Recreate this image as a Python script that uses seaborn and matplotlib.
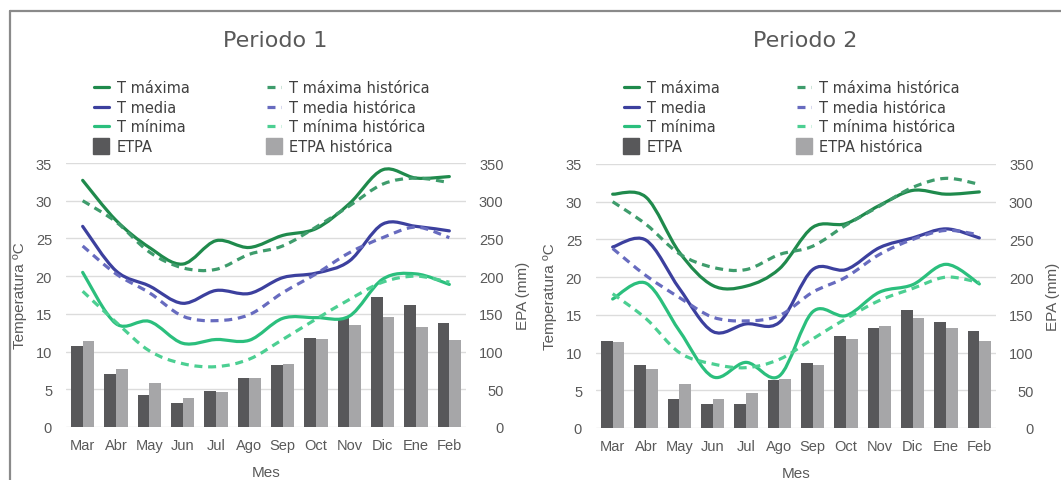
import matplotlib
matplotlib.use('Agg')
import matplotlib.pyplot as plt
from matplotlib.path import Path
from matplotlib.patches import PathPatch
from matplotlib.lines import Line2D
import numpy as np
import pandas as pd
import seaborn as sns

meses = ['Mar', 'Abr', 'May', 'Jun', 'Jul', 'Ago', 'Sep', 'Oct', 'Nov', 'Dic', 'Ene', 'Feb']

# Periodo 1
p1_tmax = [32.7, 27.4, 23.8, 21.6, 24.7, 23.8, 25.4, 26.3, 29.6, 34.1, 33.0, 33.2]
p1_tmax_h = [30.0, 27.2, 23.2, 21.1, 20.9, 22.9, 24.0, 26.5, 29.3, 32.2, 33.0, 32.4]
p1_tmed = [26.6, 20.7, 18.7, 16.4, 18.1, 17.7, 19.8, 20.4, 22.0, 26.9, 26.6, 26.0]
p1_tmed_h = [24.0, 20.3, 17.8, 14.7, 14.1, 14.9, 17.8, 20.3, 23.1, 25.1, 26.5, 25.1]
p1_tmin = [20.5, 13.7, 14.0, 11.1, 11.6, 11.5, 14.4, 14.5, 14.7, 19.6, 20.3, 18.9]
p1_tmin_h = [18.0, 13.9, 10.1, 8.4, 8.0, 9.0, 11.6, 14.3, 16.9, 19.2, 20.0, 19.2]
p1_etpa = [107, 70, 42, 32, 48, 65, 82, 118, 145, 173, 162, 138]
p1_etpa_h = [114, 77, 58, 38, 46, 65, 83, 117, 135, 146, 133, 116]

# Periodo 2
p2_tmax = [31.0, 30.6, 23.3, 18.9, 18.8, 21.1, 26.6, 27.1, 29.5, 31.5, 31.0, 31.3]
p2_tmax_h = [30.0, 27.0, 23.1, 21.3, 21.0, 23.0, 24.1, 26.9, 29.4, 31.9, 33.1, 32.3]
p2_tmed = [24.0, 24.9, 18.5, 12.8, 13.8, 14.0, 21.0, 21.0, 23.9, 25.2, 26.4, 25.2]
p2_tmed_h = [23.8, 20.2, 17.3, 14.7, 14.2, 14.9, 18.0, 20.0, 23.0, 25.0, 26.2, 25.6]
p2_tmin = [17.1, 19.2, 12.9, 6.8, 8.7, 6.9, 15.4, 14.9, 18.0, 19.0, 21.7, 19.1]
p2_tmin_h = [17.8, 14.5, 10.0, 8.5, 8.0, 9.1, 11.8, 14.5, 16.9, 18.5, 20.0, 19.3]
p2_etpa = [115, 83, 39, 32, 32, 64, 86, 122, 133, 156, 141, 129]
p2_etpa_h = [114, 78, 58, 38, 46, 65, 83, 118, 135, 146, 133, 116]

c_tmax, c_tmax_h = '#1f8a4c', '#3e9c6c'
c_tmed, c_tmed_h = '#3c409e', '#676bbf'
c_tmin, c_tmin_h = '#2bbf7d', '#4ccf92'
c_etpa, c_etpa_h = '#58585a', '#a6a6a8'
txt = '#595959'

sns.set_style('white')
plt.rcParams['font.family'] = ['Liberation Sans', 'DejaVu Sans']

dash = (0, (2.5, 1.8))


def smooth_path(y):
    # excel-like smoothed line: cubic bezier through each point
    pts = np.column_stack([np.arange(len(y)), np.asarray(y, float)])
    n = len(pts)
    verts = [pts[0]]
    codes = [Path.MOVETO]
    for i in range(n - 1):
        p0 = pts[max(i - 1, 0)]
        p1 = pts[i]
        p2 = pts[i + 1]
        p3 = pts[min(i + 2, n - 1)]
        verts += [p1 + (p2 - p0) / 6, p2 - (p3 - p1) / 6, p2]
        codes += [Path.CURVE4] * 3
    return Path(verts, codes)


def draw_panel(left, bottom, titulo, title_x, leg_x, tmax, tmax_h, tmed, tmed_h, tmin, tmin_h, etpa, etpa_h):
    ax_bar = fig.add_axes([left, bottom, 400 / 1061, 264 / 481])
    df = pd.DataFrame({'Mes': meses * 2,
                       'Serie': ['ETPA'] * 12 + ['ETPA histórica'] * 12,
                       'mm': etpa + etpa_h})
    sns.barplot(data=df, x='Mes', y='mm', hue='Serie', order=meses,
                hue_order=['ETPA', 'ETPA histórica'], palette=[c_etpa, c_etpa_h],
                width=0.7, saturation=1, linewidth=0, legend=False, ax=ax_bar)
    ax_t = ax_bar.twinx()

    ax_bar.set_xlim(-0.5, 11.5)
    ax_bar.set_ylim(0, 350)
    ax_bar.set_yticks(np.arange(0, 351, 50))
    ax_bar.yaxis.tick_right()
    ax_bar.yaxis.set_label_position('right')
    ax_bar.grid(axis='y', color='#dcdcdc', lw=1)
    ax_bar.set_axisbelow(True)
    ax_bar.set_ylabel('EPA (mm)', fontsize=11, color=txt, labelpad=9)
    ax_bar.set_xlabel('Mes', fontsize=11, color=txt, labelpad=9)
    ax_bar.tick_params(axis='y', length=0, pad=27, labelsize=10.5, labelcolor=txt)
    ax_bar.tick_params(axis='x', length=0, pad=8, labelsize=10.5, labelcolor=txt)
    for s in ax_bar.spines.values():
        s.set_visible(False)

    ax_t.yaxis.tick_left()
    ax_t.yaxis.set_label_position('left')
    ax_t.set_ylim(0, 35)
    ax_t.set_yticks(np.arange(0, 36, 5))
    ax_t.tick_params(axis='y', length=0, pad=10, labelsize=10.5, labelcolor=txt)
    ax_t.set_ylabel('Temperatura ºC', fontsize=11, color=txt, labelpad=6)
    for s in ax_t.spines.values():
        s.set_visible(False)
    for lab in ax_bar.get_yticklabels():
        lab.set_ha('right')

    for vals, col in [(tmax, c_tmax), (tmed, c_tmed), (tmin, c_tmin)]:
        ax_t.add_patch(PathPatch(smooth_path(vals), fill=False, edgecolor=col,
                                 lw=2.3, joinstyle='round', capstyle='round'))
    for vals, col in [(tmax_h, c_tmax_h), (tmed_h, c_tmed_h), (tmin_h, c_tmin_h)]:
        ax_t.add_patch(PathPatch(smooth_path(vals), fill=False, edgecolor=col,
                                 lw=2.3, linestyle=dash, capstyle='butt'))

    fig.text(title_x, 1 - 41 / 481, titulo, ha='center', va='center',
             fontsize=16, color=txt, family='DejaVu Sans')

    handles = [
        Line2D([], [], color=c_tmax, lw=2.3),
        Line2D([], [], color=c_tmed, lw=2.3),
        Line2D([], [], color=c_tmin, lw=2.3),
        Line2D([], [], color=c_etpa, marker='s', ms=11, ls='none'),
        Line2D([], [], color=c_tmax_h, lw=2.3, ls=dash),
        Line2D([], [], color=c_tmed_h, lw=2.3, ls=dash),
        Line2D([], [], color=c_tmin_h, lw=2.3, ls=dash),
        Line2D([], [], color=c_etpa_h, marker='s', ms=11, ls='none'),
    ]
    labels = ['T máxima', 'T media', 'T mínima', 'ETPA',
              'T máxima histórica', 'T media histórica', 'T mínima histórica', 'ETPA histórica']
    fig.legend(handles, labels, loc='upper left', bbox_to_anchor=(leg_x, 1 - 81 / 481),
               ncol=2, frameon=False, borderpad=0, borderaxespad=0,
               handlelength=1.0, handletextpad=0.55, columnspacing=5.3,
               labelspacing=0.32, prop={'family': 'DejaVu Sans', 'size': 10.5},
               labelcolor='#404040')


fig = plt.figure(figsize=(10.61, 4.81), dpi=100)

draw_panel(66 / 1061, 53 / 481, 'Periodo 1', 275 / 1061, 94 / 1061,
           p1_tmax, p1_tmax_h, p1_tmed, p1_tmed_h, p1_tmin, p1_tmin_h, p1_etpa, p1_etpa_h)
draw_panel(596 / 1061, 52 / 481, 'Periodo 2', 805 / 1061, 624 / 1061,
           p2_tmax, p2_tmax_h, p2_tmed, p2_tmed_h, p2_tmin, p2_tmin_h, p2_etpa, p2_etpa_h)

# outer frame (left and top edges)
fig.add_artist(Line2D([10 / 1061, 10 / 1061], [0, 1 - 12 / 481], color='#8a8a8a', lw=1.6))
fig.add_artist(Line2D([10 / 1061, 1], [1 - 12 / 481, 1 - 12 / 481], color='#8a8a8a', lw=1.6))

fig.savefig('out.png', dpi=100)
